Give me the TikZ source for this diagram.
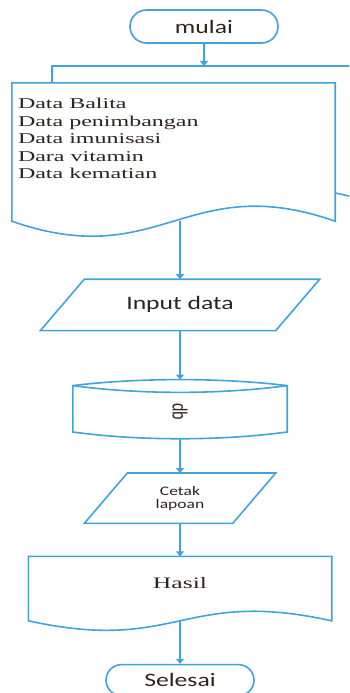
\documentclass[tikz,border=0pt]{standalone}
\usepackage{fontspec}
\usepackage{graphicx}
\setmainfont{Liberation Serif}[FakeStretch=1.6]
\newfontfamily\calibri{Carlito}[FakeStretch=1.35]
\newfontfamily\calibriplain{Carlito}
\usetikzlibrary{arrows.meta,positioning,calc}
\definecolor{flowblue}{RGB}{66,163,219}
\definecolor{ink}{RGB}{46,36,30}

\tikzset{
  outline/.style={draw=flowblue, line width=1.6pt},
  flow/.style={draw=flowblue, line width=1.6pt, -{Triangle[width=8pt,length=5pt]}},
  sanstext/.style={font=\calibri\fontsize{19}{22}\selectfont},
}

\begin{document}
\begin{tikzpicture}[x=1pt, y=1pt, text=ink]
    \clip (0,0) rectangle (349,-693);

    \node (mulai) [outline, rounded corners=16.5pt, minimum width=148pt, minimum height=33pt, sanstext] at (204,-26.5) {mulai};
    \coordinate (docs top) at (204,-66);

    % data sheets
    \node (docs) [minimum width=323pt, minimum height=138pt, inner sep=0pt, below=39pt of mulai, xshift=-30.5pt] {};
    \draw [outline, fill=white] (52,-204) -- (52,-66) -- (375,-66) -- (375,-204) .. controls +(-149,52) and +(149,-52) .. (52,-204) -- cycle;
    \draw [outline, fill=white] (docs.south west) -- (docs.north west) -- (docs.north east) -- (docs.south east) .. controls +(-149,52) and +(149,-52) .. (docs.south west) -- cycle;
    \node (datalist) [anchor=north west, align=left, inner sep=0pt, font=\fontsize{15}{17.5}\selectfont] at ([shift={(6pt,-15.5pt)}]docs.north west) {Data Balita\\Data penimbangan\\Data imunisasi\\Dara vitamin\\Data kematian};

    \node (input) [minimum width=279pt, minimum height=51pt, inner sep=0pt, below=58pt of docs, xshift=6.5pt, sanstext] {Input data};
    \draw [outline] ([xshift=44pt]input.north west) -- (input.north east) -- ([xshift=-44pt]input.south east) -- (input.south west) -- cycle;

    % database
    \node (db) [minimum width=214pt, minimum height=59pt, inner sep=0pt, below=49pt of input] {};
    \draw [outline] ([yshift=-6pt]db.north west) .. controls +(67,8) and +(-67,8) .. ([yshift=-6pt]db.north east) -- ([yshift=7pt]db.south east) .. controls +(-67,-9) and +(67,-9) .. ([yshift=7pt]db.south west) -- cycle;
    \draw [outline] ([yshift=-6pt]db.north west) .. controls +(67,-9) and +(-67,-9) .. ([yshift=-6pt]db.north east);
    \node (dblabel) [rotate=-90, font=\calibriplain\fontsize{16}{18}\selectfont] at ([yshift=-2.5pt]db.center) {\scalebox{1}[1.35]{db}};

    \node (cetak) [minimum width=191pt, minimum height=50pt, inner sep=0pt, below=34pt of db, align=center, font=\calibri\fontsize{13}{13}\selectfont] {Cetak\\lapoan};
    \draw [outline] ([xshift=43pt]cetak.north west) -- (cetak.north east) -- ([xshift=-43pt]cetak.south east) -- (cetak.south west) -- cycle;

    % report
    \node (hasil) [minimum width=303pt, minimum height=64pt, inner sep=0pt, below=33pt of cetak] {};
    \draw [outline] (hasil.south west) -- (hasil.north west) -- (hasil.north east) -- (hasil.south east) .. controls +(-150,33) and +(150,-33) .. (hasil.south west) -- cycle;
    \node (hasillabel) [anchor=base, font=\fontsize{16}{18}\selectfont] at (hasil.center) {Hasil};

    \node (selesai) [outline, rounded corners=15.5pt, minimum width=148pt, minimum height=31pt, below=43pt of hasil, sanstext] {Selesai};

    \draw [flow] (mulai) -- (docs top);
    \draw [flow] (docs.south -| input.north) -- (input);
    \draw [flow] (input) -- (db);
    \draw [flow] (db) -- (cetak);
    \draw [flow] (cetak) -- (hasil);
    \draw [flow] (hasil) -- (selesai);
\end{tikzpicture}
\end{document}
